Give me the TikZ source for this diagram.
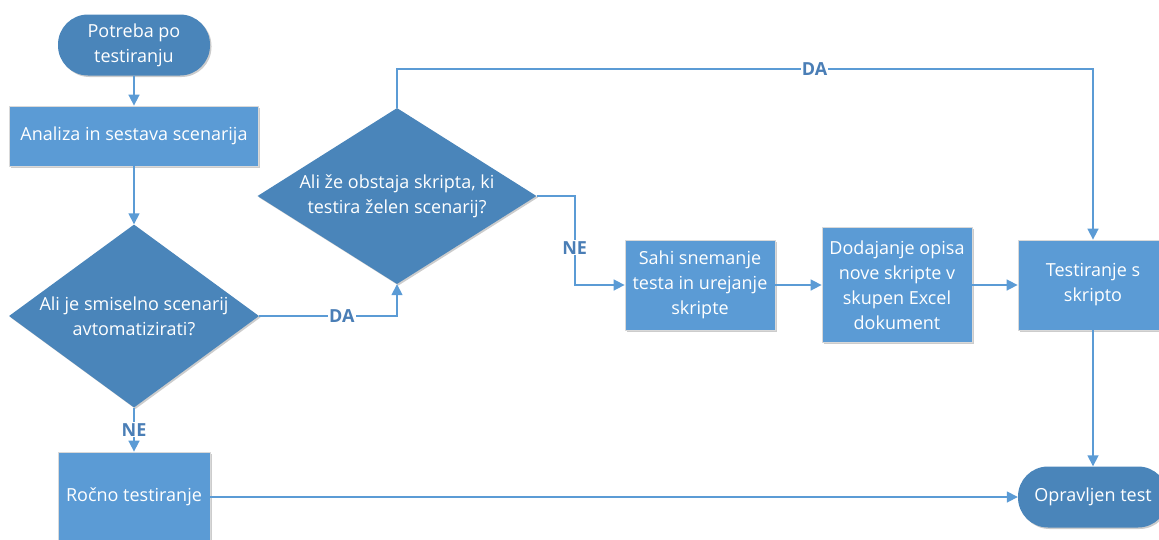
\documentclass[tikz,border=0pt]{standalone}
\usepackage{fontspec}
\setmainfont{Open Sans}
\usetikzlibrary{shapes.geometric,arrows.meta,shadows}

\definecolor{boxblue}{HTML}{5B9BD5}
\definecolor{darkblue}{HTML}{4A85BA}
\definecolor{lineblue}{HTML}{5B9BD5}
\definecolor{labelblue}{HTML}{4A7EB6}

\begin{document}
\begin{tikzpicture}[x=1pt,y=-1pt,
  font=\fontsize{18}{25}\selectfont,
  shade/.style={drop shadow={shadow xshift=1.5pt,shadow yshift=-1.5pt,opacity=.2,fill=black}},
  term/.style={rectangle,rounded corners=30pt,fill=darkblue,text=white,align=center,
    minimum width=152pt,minimum height=61pt,inner sep=0pt,shade},
  proc/.style={rectangle,fill=boxblue,draw=black!15,line width=.8pt,text=white,
    align=center,inner sep=0pt,shade},
  decision/.style={diamond,fill=darkblue,text=white,align=center,inner sep=-14pt,shade},
  link/.style={draw=lineblue,line width=1.6pt,-{Triangle[length=11pt,width=11pt]}},
  lbl/.style={fill=white,text=labelblue,font=\fontsize{18}{18}\selectfont\bfseries,inner sep=1pt}]

% page
\useasboundingbox (0,0) rectangle (1159,539);
\clip (0,0) rectangle (1159,539);

% draw nodes
\node[term] (start) at (134,45) {Potreba po\\testiranju};
\node[proc,minimum width=249pt,minimum height=60pt] (analiza) at (134,136) {Analiza in sestava scenarija};
\node[decision,minimum width=250pt,minimum height=183pt,shape aspect=1.37] (smiselno) at (134,316)
  {Ali je smiselno scenarij\\avtomatizirati?};
\node[decision,minimum width=279pt,minimum height=176pt,shape aspect=1.59] (obstaja) at (397,196)
  {Ali že obstaja skripta, ki\\testira želen scenarij?};
\node[proc,minimum width=150pt,minimum height=90pt] (sahi) at (700,285)
  {Sahi snemanje\\testa in urejanje\\skripte};
\node[proc,minimum width=150pt,minimum height=115pt] (opis) at (897,285)
  {Dodajanje opisa\\nove skripte v\\skupen Excel\\dokument};
\node[proc,minimum width=150pt,minimum height=90pt] (skripta) at (1093,285)
  {Testiranje s\\skripto};
\node[proc,minimum width=152pt,minimum height=90pt] (rocno) at (134,497) {Ročno testiranje};
\node[term,minimum width=150pt] (konec) at (1093,497) {Opravljen test};

% draw connectors
\draw[link] (start) -- (analiza);
\draw[link] (analiza) -- (smiselno);
\draw[link] (smiselno.east) -- node[lbl,pos=.6] {DA} (obstaja.south |- smiselno.east) -- (obstaja.south);
\draw[link] (smiselno.south) -- node[lbl] {NE} (rocno.north);
\draw[link] (obstaja.north) -- ++(0,-39) -| node[lbl,pos=.3] {DA} (skripta.north);
\draw[link] (obstaja.east) -- ++(38,0) |- node[lbl,pos=.29] {NE} (sahi.west);
\draw[link] (sahi) -- (opis);
\draw[link] (opis) -- (skripta);
\draw[link] (skripta) -- (konec);
\draw[link] (rocno) -- (konec);

\end{tikzpicture}
\end{document}
